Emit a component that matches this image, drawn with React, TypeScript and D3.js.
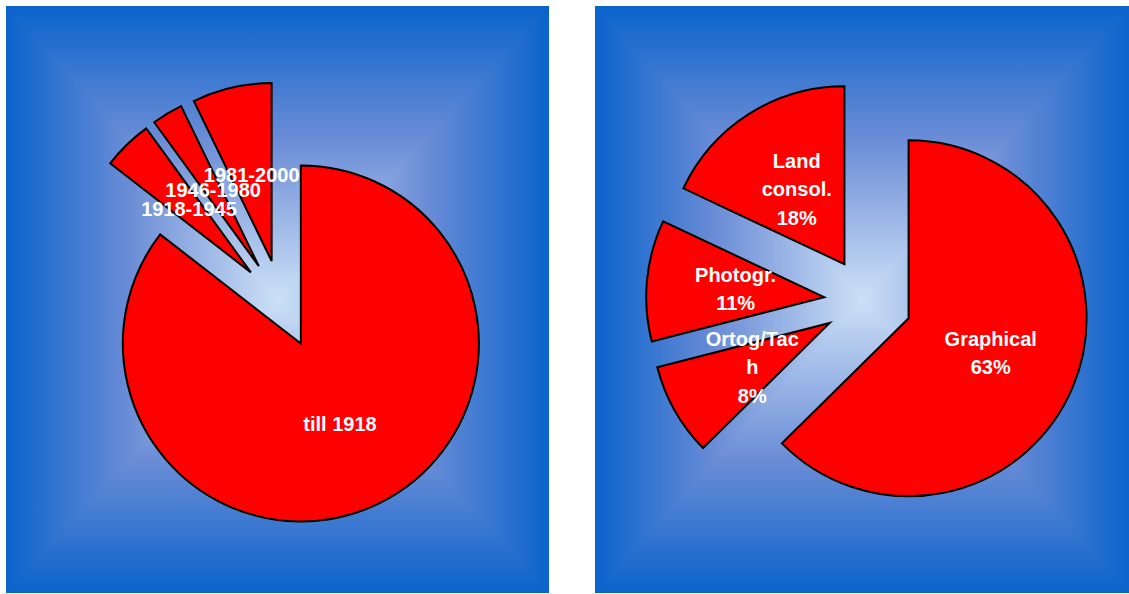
import React from "react";
import * as d3 from "d3";

// ---- data ----
const leftCategories = ["till 1918", "1918-1945", "1946-1980", "1981-2000"];
const leftValues = [85.5, 4.5, 2.8, 7.2];

const rightCategories = ["Graphical", "Ortog/Tach", "Photogr.", "Land consol."];
const rightLabelLines = [["Graphical"], ["Ortog/Tac", "h"], ["Photogr."], ["Land", "consol."]];
const rightValues = [62.6, 8.4, 11.0, 18.0];

// ---- layout ----
const W = 1129;
const H = 594;
const R = 178;
const EXPLODE = 44;
const FONT = 20;
const LINE_H = 28.5;

type PanelProps = {
  id: string;
  x0: number;
  y0: number;
  x1: number;
  y1: number;
  cx: number;
  cy: number;
  categories: string[];
  values: number[];
  lines: string[][];
  showPct: boolean;
};

const EDGE = "#0A63CB";
const MID = "#6A8CD6";
const CENTER = "#CCE0F6";

function Stops() {
  return (
    <>
      <stop offset="0" stopColor={EDGE} />
      <stop offset="0.45" stopColor={MID} />
      <stop offset="1" stopColor={CENTER} />
    </>
  );
}

function Panel(p: PanelProps) {
  const gx = (p.x0 + p.x1) / 2;
  const gy = (p.y0 + p.y1) / 2;
  const pie = d3
    .pie<number>()
    .sort(null)
    .value((d) => d)
    .startAngle(0)
    .endAngle(2 * Math.PI);
  const arcs = pie(p.values);
  const arc = d3.arc<d3.PieArcDatum<number>>().innerRadius(0).outerRadius(R);
  const total = d3.sum(p.values);
  const pct = d3.format(".0%");

  const dir = (a: d3.PieArcDatum<number>) => {
    const m = (a.startAngle + a.endAngle) / 2;
    return [Math.sin(m), -Math.cos(m)];
  };

  return (
    <g>
      <defs>
        <clipPath id={p.id + "clip"}>
          <rect x={p.x0} y={p.y0} width={p.x1 - p.x0} height={p.y1 - p.y0} />
        </clipPath>
        <linearGradient id={p.id + "t"} gradientUnits="userSpaceOnUse" x1={gx} y1={p.y0} x2={gx} y2={gy}>
          <Stops />
        </linearGradient>
        <linearGradient id={p.id + "b"} gradientUnits="userSpaceOnUse" x1={gx} y1={p.y1} x2={gx} y2={gy}>
          <Stops />
        </linearGradient>
        <linearGradient id={p.id + "l"} gradientUnits="userSpaceOnUse" x1={p.x0} y1={gy} x2={gx} y2={gy}>
          <Stops />
        </linearGradient>
        <linearGradient id={p.id + "r"} gradientUnits="userSpaceOnUse" x1={p.x1} y1={gy} x2={gx} y2={gy}>
          <Stops />
        </linearGradient>
      </defs>
      <g clipPath={`url(#${p.id}clip)`}>
        <rect x={p.x0} y={p.y0} width={p.x1 - p.x0} height={gy - p.y0 + 1} fill={`url(#${p.id}t)`} />
        <rect x={p.x0} y={gy} width={p.x1 - p.x0} height={p.y1 - gy} fill={`url(#${p.id}b)`} />
        <polygon points={`${p.x0},${p.y0} ${p.x0},${p.y1} ${gx},${gy}`} fill={`url(#${p.id}l)`} />
        <polygon points={`${p.x1},${p.y0} ${p.x1},${p.y1} ${gx},${gy}`} fill={`url(#${p.id}r)`} />
      </g>

      <g transform={`translate(${p.cx},${p.cy})`}>
        {arcs.map((a, i) => {
          const [ux, uy] = dir(a);
          return (
            <path
              key={p.categories[i]}
              d={arc(a) || ""}
              transform={`translate(${ux * EXPLODE},${uy * EXPLODE})`}
              fill="#FF0000"
              stroke="#000"
              strokeWidth={2}
              strokeLinejoin="miter"
            />
          );
        })}
        {arcs.map((a, i) => {
          const [ux, uy] = dir(a);
          const dist = EXPLODE + R / 2;
          const lx = ux * dist;
          const ly = uy * dist;
          const ls = p.showPct ? [...p.lines[i], pct(a.data / total)] : p.lines[i];
          const n = ls.length;
          return (
            <text
              key={"t" + i}
              x={lx}
              textAnchor="middle"
              fill="#fff"
              fontFamily="'Liberation Sans', Arial, sans-serif"
              fontWeight="bold"
              fontSize={FONT}
            >
              {ls.map((s, j) => (
                <tspan key={j} x={lx} y={ly + (j - (n - 1) / 2) * LINE_H + FONT * 0.36}>
                  {s}
                </tspan>
              ))}
            </text>
          );
        })}
      </g>
    </g>
  );
}

export default function App() {
  return (
    <svg
      width={W}
      height={H}
      viewBox={`0 0 ${W} ${H}`}
      style={{ position: "absolute", left: 0, top: 0, background: "#fff" }}
    >
      <rect x={0} y={0} width={W} height={H} fill="#fff" />
      <Panel
        id="pl"
        x0={6}
        y0={6}
        x1={549}
        y1={593}
        cx={281.5}
        cy={304}
        categories={leftCategories}
        values={leftValues}
        lines={leftCategories.map((c) => [c])}
        showPct={false}
      />
      <Panel
        id="pr"
        x0={595}
        y0={6}
        x1={1129}
        y1={593}
        cx={868}
        cy={301.3}
        categories={rightCategories}
        values={rightValues}
        lines={rightLabelLines}
        showPct={true}
      />
    </svg>
  );
}
